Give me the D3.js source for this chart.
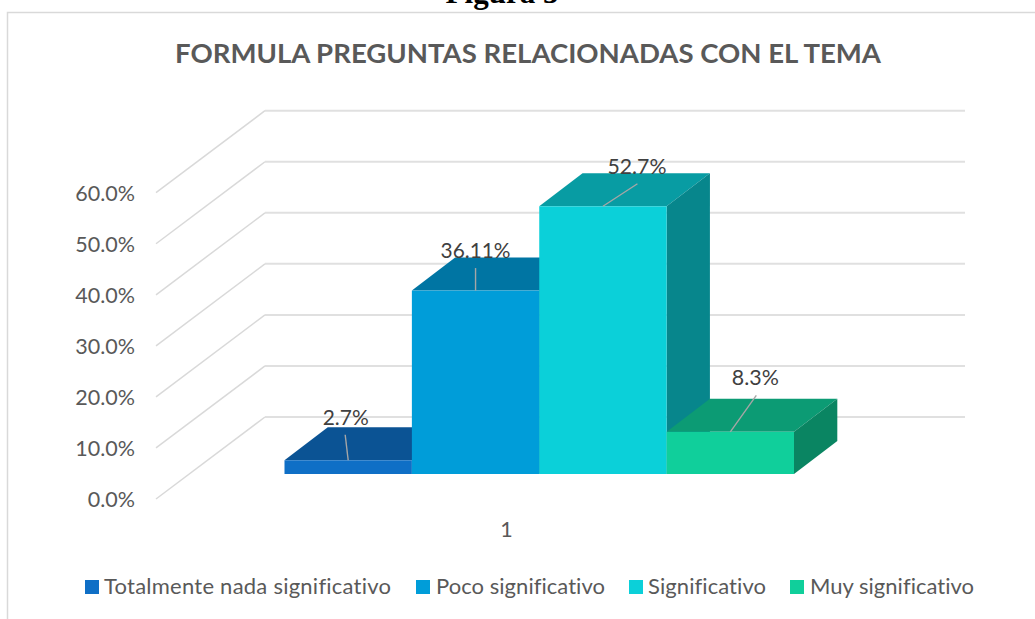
<!DOCTYPE html>
<html><head><meta charset="utf-8">
<script src="https://cdn.jsdelivr.net/npm/d3@7/dist/d3.min.js"></script>
<style>html,body{margin:0;padding:0;background:#fff}svg{display:block}text{font-family:Lato,"Noto Sans",sans-serif;font-variant-ligatures:none}</style>
</head><body><svg id="c" width="1035" height="619"></svg>
<script>
const categories = ["Totalmente nada significativo","Poco significativo","Significativo","Muy significativo"];
const values = [2.7,36.11,52.7,8.3];
const valueLabels = ["2.7%","36.11%","52.7%","8.3%"];
const frontColors = ["#0f6fc6","#009dd9","#0bd0d9","#10cf9b"];
const topColors = ["#0b5394","#0075a3","#089ca3","#0c9b74"];
const sideColors = ["#0a4a80","#006690","#07868c","#0a8562"];
const ticks = [0,10,20,30,40,50,60];
const title = "FORMULA PREGUNTAS RELACIONADAS CON EL TEMA";
const figureTitle = "Figura 3";
const categoryLabel = "1";

const svg = d3.select("#c");
const y = d3.scaleLinear().domain([0,60]).range([474,169.2]);
const grid = d3.scaleLinear().domain([0,60]).range([417,110.7]);
const x = d3.scaleBand().domain(categories).range([284.5,794]);
const depthX = 43.3, depthY = -33;
const wallLeft = 156, wallBack = 265, wallRight = 965, wallDrop = 82;

// chart frame
svg.append("path").attr("d","M7.5,619V12.5H1035").attr("fill","none").attr("stroke","#d9d9d9").attr("stroke-width",1.5);
svg.append("text").attr("x",502).attr("y",2.5).attr("text-anchor","middle")
  .style("font-family","'Liberation Serif',serif").style("font-weight","700").style("font-size","31px").attr("fill","#000").text(figureTitle);
svg.append("text").attr("x",528).attr("y",63).attr("text-anchor","middle")
  .style("font-weight","700").style("font-size","27.5px").attr("fill","#595959").attr("textLength",706).attr("lengthAdjust","spacingAndGlyphs").text(title);

// gridlines on the walls
const gridG = svg.append("g").attr("fill","none");
gridG.selectAll(".wall").data(ticks).join("path").attr("class","wall")
  .attr("d",t=>`M${wallLeft},${grid(t)+wallDrop}L${wallBack},${grid(t)}`)
  .attr("stroke","#d9d9d9").attr("stroke-width",1.5);
gridG.selectAll(".back").data(ticks).join("path").attr("class","back")
  .attr("d",t=>`M${wallBack},${grid(t)}H${wallRight}`)
  .attr("stroke","#e0e0e0").attr("stroke-width",2);

// tick labels
svg.append("g").selectAll("text").data(ticks).join("text")
  .attr("x",135).attr("y",t=>grid(t)+wallDrop+8).attr("text-anchor","end")
  .style("font-size","21.5px").attr("fill","#595959").text(t=>d3.format(".1f")(t)+"%");

// 3-D bars
const bars = svg.append("g").selectAll("g").data(categories).join("g");
bars.append("path").attr("fill",(d,i)=>topColors[i]).attr("d",(d,i)=>{
  const l=x(d), r=l+x.bandwidth(), t=y(values[i]);
  return `M${l},${t}L${l+depthX},${t+depthY}H${r+depthX}L${r},${t}Z`;});
bars.append("path").attr("fill",(d,i)=>sideColors[i]).attr("d",(d,i)=>{
  const r=x(d)+x.bandwidth(), t=y(values[i]), b=y(0);
  return `M${r},${t}L${r+depthX},${t+depthY}V${b+depthY}L${r},${b}Z`;});
bars.append("rect").attr("fill",(d,i)=>frontColors[i])
  .attr("x",d=>x(d)).attr("width",x.bandwidth())
  .attr("y",(d,i)=>y(values[i])).attr("height",(d,i)=>y(0)-y(values[i]));

// leader lines and data labels
const leaderEnd = [[-3,-25.5],[0,-22.5],[34.5,-22.5],[26,-36.5]];
const labelDx = [-2.5,0,34,25];
const labelDy = [-35.5,-33,-32,-46.5];
const labelWidths = [46,70,59,47];
const labels = svg.append("g").selectAll("g").data(categories).join("g");
const cx = d => x(d)+x.bandwidth()/2;
labels.append("line").attr("stroke","#a6a6a6").attr("stroke-width",1.4)
  .attr("x1",cx).attr("y1",(d,i)=>y(values[i]))
  .attr("x2",(d,i)=>cx(d)+leaderEnd[i][0]).attr("y2",(d,i)=>y(values[i])+leaderEnd[i][1]);
labels.append("text").attr("text-anchor","middle").style("font-size","21.5px").attr("fill","#404040")
  .attr("x",(d,i)=>cx(d)+labelDx[i]).attr("y",(d,i)=>y(values[i])+labelDy[i])
  .attr("textLength",(d,i)=>labelWidths[i]).attr("lengthAdjust","spacingAndGlyphs").text((d,i)=>valueLabels[i]);

// category label
svg.append("text").attr("x",506.5).attr("y",537).attr("text-anchor","middle").style("font-size","21.5px").attr("fill","#595959").text(categoryLabel);

// legend
const legendSwatchX = [85,416,629,790];
const legendTextX = [104,436,648,810];
const legendTextWidths = [287,169,118,164];
const legend = svg.append("g").selectAll("g").data(categories).join("g");
legend.append("rect").attr("x",(d,i)=>legendSwatchX[i]).attr("y",580).attr("width",14).attr("height",14).attr("fill",(d,i)=>frontColors[i]);
legend.append("text").attr("x",(d,i)=>legendTextX[i]).attr("y",594).style("font-size","22px").attr("fill","#595959")
  .attr("textLength",(d,i)=>legendTextWidths[i]).attr("lengthAdjust","spacing").text(d=>d);
</script></body></html>
